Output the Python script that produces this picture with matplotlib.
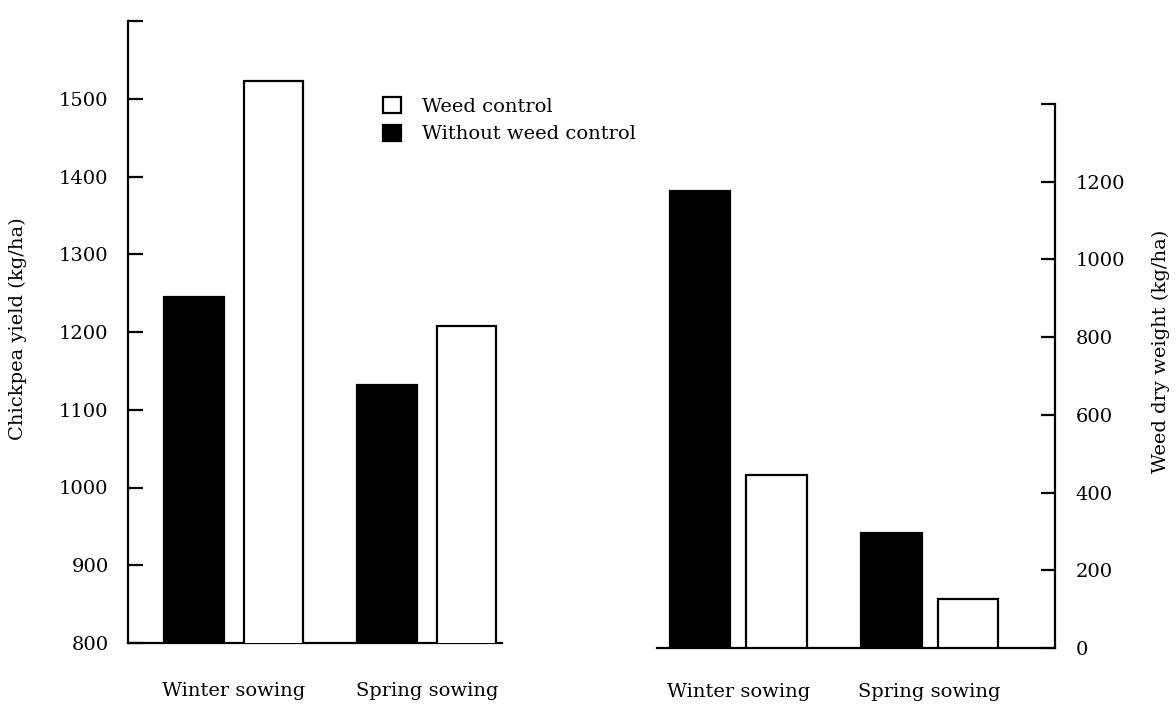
import matplotlib
matplotlib.use("Agg")
import matplotlib.pyplot as plt
from matplotlib.patches import Patch
import numpy as np

# ---- data ----
categories = ["Winter sowing", "Spring sowing"]
yield_without_control = [1245, 1132]
yield_with_control = [1523, 1208]
weed_without_control = [1175, 295]
weed_with_control = [445, 125]
yield_ticks = [800, 900, 1000, 1100, 1200, 1300, 1400, 1500, 1600]
yield_ticklabels = ["800", "900", "1000", "1100", "1200", "1300", "1400", "1500", ""]
weed_ticks = [0, 200, 400, 600, 800, 1000, 1200, 1400]
weed_ticklabels = ["0", "200", "400", "600", "800", "1000", "1200", ""]
legend_labels = ["Weed control", "Without weed control"]

plt.rcParams["font.family"] = ["DejaVu Serif"]
FS = 14
W, H = 1176, 704
fig = plt.figure(figsize=(W / 100, H / 100), dpi=100)


def px_axes(l, r, b, t):
    return fig.add_axes([l / W, 1 - b / H, (r - l) / W, (b - t) / H])


x = np.arange(len(categories))
lw = 1.6

# ---- left panel ----
ax1 = px_axes(128, 502, 643, 21)
bw = 0.31
ax1.bar(x - 0.205, yield_without_control, width=bw, color="black", edgecolor="black", linewidth=lw, zorder=3)
ax1.bar(x + 0.205, yield_with_control, width=bw, color="white", edgecolor="black", linewidth=lw, zorder=3)
ax1.set_ylim(800, 1600)
ax1.set_xlim(-0.549, 1.389)
ax1.set_yticks(yield_ticks)
ax1.set_yticklabels(yield_ticklabels, fontsize=FS)
ax1.set_xticks(x)
ax1.set_xticklabels(categories, fontsize=FS)
ax1.tick_params(axis="y", direction="in", length=11, width=1.6, pad=14)
ax1.tick_params(axis="x", length=0, pad=28)
for s in ["top", "right"]:
    ax1.spines[s].set_visible(False)
for s in ["left", "bottom"]:
    ax1.spines[s].set_linewidth(1.6)
ax1.set_ylabel("Chickpea yield (kg/ha)", fontsize=FS)
ax1.yaxis.label.set(ha="center", va="center", rotation_mode="anchor")
ax1.yaxis.set_label_coords(-0.294, 0.506)

# ---- right panel ----
ax2 = px_axes(657, 1055, 648, 104)
bw2 = 0.314
ax2.bar(x - 0.2, weed_without_control, width=bw2, color="black", edgecolor="black", linewidth=lw, zorder=3)
ax2.bar(x + 0.2, weed_with_control, width=bw2, color="white", edgecolor="black", linewidth=lw, zorder=3)
ax2.set_ylim(0, 1400)
ax2.set_xlim(-0.424, 1.654)
ax2.yaxis.tick_right()
ax2.yaxis.set_label_position("right")
ax2.set_yticks(weed_ticks)
ax2.set_yticklabels(weed_ticklabels, fontsize=FS)
ax2.set_xticks(x)
ax2.set_xticklabels(categories, fontsize=FS)
ax2.tick_params(axis="y", direction="in", length=10, width=1.6, pad=15)
ax2.tick_params(axis="x", length=0, pad=25)
for s in ["top", "left"]:
    ax2.spines[s].set_visible(False)
for s in ["right", "bottom"]:
    ax2.spines[s].set_linewidth(1.6)
ax2.set_ylabel("Weed dry weight (kg/ha)", fontsize=FS)
ax2.yaxis.label.set(ha="center", va="center", rotation=90, rotation_mode="anchor")
ax2.yaxis.set_label_coords(1.267, 0.546)

# ---- legend ----
handles = [Patch(facecolor="white", edgecolor="black", linewidth=1.6),
           Patch(facecolor="black", edgecolor="black", linewidth=1.6)]
fig.legend(handles, legend_labels, loc="upper left",
           bbox_to_anchor=(383 / W, 1 - 97 / H), frameon=False,
           borderpad=0, borderaxespad=0, handlelength=0.9, handleheight=0.9,
           handletextpad=1.1, labelspacing=0.45, fontsize=FS)

fig.savefig("out.png", dpi=100, facecolor="white")
